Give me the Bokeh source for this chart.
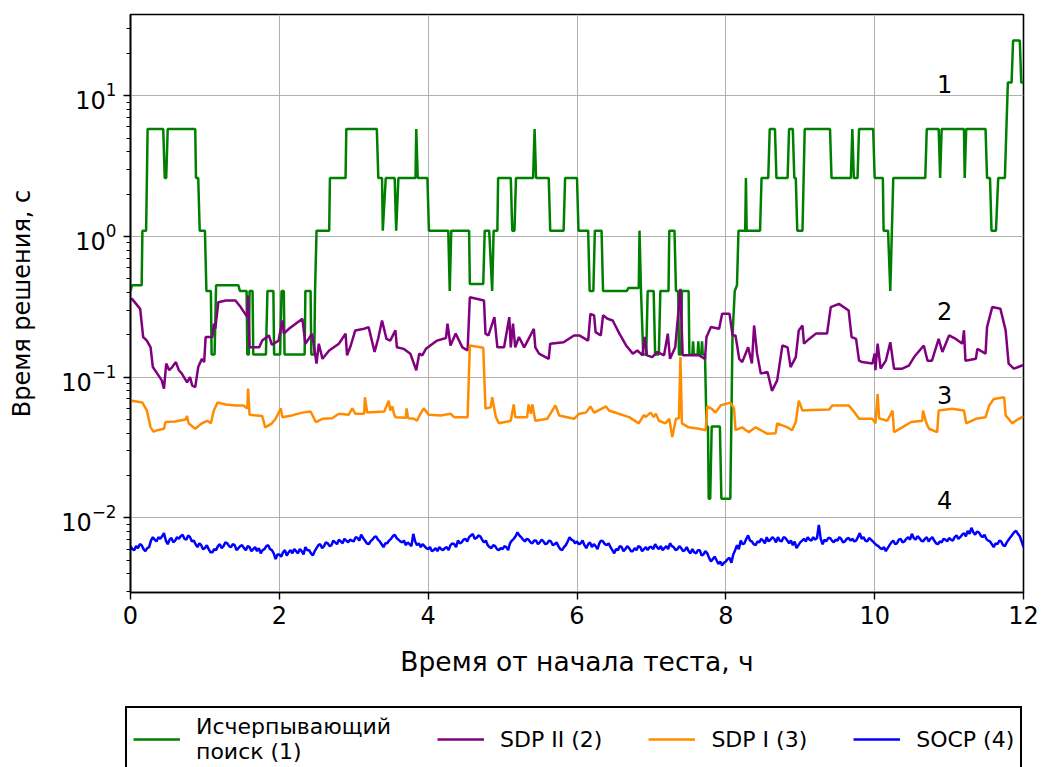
from bokeh.plotting import figure
from bokeh.layouts import column
from bokeh.models import Range1d, FixedTicker, Legend, LegendItem, ColumnDataSource
from bokeh.core.properties import value
from bokeh.embed import file_html
from bokeh.resources import INLINE

FONT = "DejaVu Sans"

# --- Exhaustive search (1): solve time, s ---
exh_t = [0.00, 0.02, 0.15, 0.16, 0.21, 0.23, 0.44, 0.46, 0.48, 0.50,
         0.87, 0.88, 0.91, 0.93, 1.00, 1.02, 1.08, 1.09, 1.13, 1.15,
         1.45, 1.47, 1.56, 1.57, 1.59, 1.60, 1.64, 1.65, 1.82, 1.84,
         1.92, 1.93, 2.01, 2.03, 2.06, 2.07, 2.34, 2.35, 2.42, 2.43,
         2.47, 2.48, 2.50, 2.67, 2.68, 2.89, 2.90, 3.31, 3.33, 3.38,
         3.39, 3.43, 3.55, 3.57, 3.60, 3.83, 3.84, 3.86, 3.99, 4.01,
         4.27, 4.29, 4.31, 4.55, 4.56, 4.74, 4.76, 4.82, 4.86, 4.88,
         4.93, 4.94, 5.11, 5.13, 5.16, 5.18, 5.41, 5.43, 5.45, 5.62,
         5.64, 5.82, 5.84, 6.00, 6.02, 6.15, 6.17, 6.22, 6.24, 6.33,
         6.35, 6.67, 6.69, 6.83, 6.84, 6.86, 6.89, 6.93, 6.95, 7.03,
         7.05, 7.10, 7.12, 7.23, 7.24, 7.31, 7.33, 7.36, 7.37, 7.40,
         7.41, 7.50, 7.51, 7.55, 7.56, 7.57, 7.62, 7.63, 7.64, 7.67,
         7.68, 7.69, 7.72, 7.74, 7.76, 7.77, 7.79, 7.81, 7.92, 7.94,
         8.06, 8.09, 8.12, 8.15, 8.17, 8.26, 8.27, 8.28, 8.46, 8.48,
         8.57, 8.59, 8.66, 8.68, 8.83, 8.85, 8.90, 8.92, 8.94, 8.96,
         9.03, 9.06, 9.40, 9.42, 9.68, 9.70, 9.72, 9.77, 9.79, 9.98,
         10.00, 10.11, 10.12, 10.18, 10.21, 10.25, 10.68, 10.70, 10.86, 10.88,
         10.90, 11.20, 11.21, 11.23, 11.49, 11.51, 11.55, 11.57, 11.63, 11.66,
         11.75, 11.77, 11.79, 11.84, 11.86, 11.95, 11.97, 12.00]
exh_s = [0.41, 0.45, 0.45, 1.1, 1.1, 5.8, 5.8, 2.6, 2.6, 5.8,
         5.8, 2.6, 2.6, 1.1, 1.1, 0.41, 0.41, 0.145, 0.145, 0.45,
         0.45, 0.41, 0.41, 0.145, 0.145, 0.41, 0.41, 0.145, 0.145, 0.41,
         0.41, 0.145, 0.145, 0.41, 0.41, 0.145, 0.145, 0.41, 0.41, 0.145,
         0.145, 0.41, 1.1, 1.1, 2.6, 2.6, 5.8, 5.8, 2.6, 2.6,
         1.1, 2.6, 2.6, 1.1, 2.6, 2.6, 5.8, 2.6, 2.6, 1.1,
         1.1, 0.41, 1.1, 1.1, 0.46, 0.46, 1.1, 1.1, 0.41, 1.1,
         1.1, 2.6, 2.6, 1.1, 1.1, 2.6, 2.6, 5.8, 2.6, 2.6,
         1.1, 1.1, 2.6, 2.6, 1.1, 1.1, 0.41, 0.41, 1.1, 1.1,
         0.41, 0.41, 0.43, 0.43, 1.1, 0.41, 0.145, 0.145, 0.41, 0.41,
         0.145, 0.145, 0.41, 0.41, 1.1, 1.1, 0.41, 0.41, 0.145, 0.145,
         0.41, 0.41, 0.145, 0.145, 0.18, 0.145, 0.145, 0.18, 0.145, 0.145,
         0.18, 0.145, 0.145, 0.0446, 0.0446, 0.0137, 0.0137, 0.0446, 0.0446, 0.0137,
         0.0137, 0.2, 0.41, 0.45, 1.1, 1.1, 2.6, 1.1, 1.1, 2.6,
         2.6, 5.8, 5.8, 2.6, 2.6, 5.8, 5.8, 2.6, 2.6, 1.1,
         1.1, 5.8, 5.8, 2.6, 2.6, 5.8, 2.6, 2.6, 5.8, 5.8,
         2.6, 2.6, 1.1, 1.1, 0.41, 2.6, 2.6, 5.8, 5.8, 2.6,
         5.8, 5.8, 2.6, 5.8, 5.8, 2.6, 2.6, 1.1, 1.1, 2.6,
         2.6, 5.8, 12.4, 12.4, 24.7, 24.7, 12.4, 12.4]

# --- SDP II (2) ---
sdp2_t = [0.00, 0.02, 0.13, 0.17, 0.22, 0.27, 0.30, 0.36, 0.42, 0.45,
          0.48, 0.52, 0.56, 0.61, 0.65, 0.69, 0.76, 0.80, 0.83, 0.87,
          0.91, 0.96, 0.99, 1.01, 1.10, 1.12, 1.14, 1.18, 1.28, 1.41,
          1.48, 1.57, 1.58, 1.60, 1.73, 1.77, 1.86, 1.90, 1.99, 2.04,
          2.06, 2.13, 2.31, 2.35, 2.44, 2.50, 2.53, 2.58, 2.67, 2.80,
          2.89, 2.91, 2.96, 3.02, 3.14, 3.20, 3.28, 3.33, 3.38, 3.44,
          3.49, 3.56, 3.58, 3.67, 3.76, 3.84, 3.88, 3.92, 3.97, 4.12,
          4.24, 4.26, 4.30, 4.37, 4.46, 4.53, 4.56, 4.75, 4.77, 4.81,
          4.89, 4.93, 5.02, 5.09, 5.11, 5.14, 5.17, 5.22, 5.29, 5.35,
          5.42, 5.44, 5.49, 5.62, 5.64, 5.82, 5.96, 6.03, 6.15, 6.18,
          6.23, 6.25, 6.32, 6.35, 6.41, 6.48, 6.57, 6.66, 6.75, 6.81,
          6.88, 6.91, 6.94, 7.01, 7.08, 7.17, 7.22, 7.25, 7.32, 7.39,
          7.42, 7.64, 7.72, 7.74, 7.80, 7.91, 7.95, 8.05, 8.09, 8.13,
          8.18, 8.22, 8.30, 8.35, 8.38, 8.42, 8.47, 8.56, 8.62, 8.69,
          8.76, 8.83, 8.87, 8.94, 8.98, 9.03, 9.05, 9.12, 9.21, 9.36,
          9.41, 9.52, 9.65, 9.69, 9.75, 9.79, 9.83, 9.97, 10.00, 10.01,
          10.04, 10.08, 10.15, 10.21, 10.26, 10.37, 10.46, 10.53, 10.66, 10.71,
          10.77, 10.86, 10.91, 11.00, 11.09, 11.18, 11.20, 11.22, 11.36, 11.38,
          11.49, 11.51, 11.58, 11.69, 11.76, 11.80, 11.87, 11.98, 12.00]
sdp2_s = [0.360, 0.360, 0.306, 0.193, 0.182, 0.163, 0.118, 0.106, 0.095, 0.083,
          0.125, 0.112, 0.118, 0.128, 0.112, 0.106, 0.092, 0.100, 0.087, 0.085,
          0.118, 0.135, 0.128, 0.193, 0.193, 0.240, 0.221, 0.341, 0.351, 0.351,
          0.315, 0.267, 0.381, 0.163, 0.163, 0.182, 0.198, 0.170, 0.182, 0.253,
          0.204, 0.221, 0.260, 0.173, 0.204, 0.125, 0.173, 0.135, 0.155, 0.173,
          0.204, 0.143, 0.168, 0.215, 0.221, 0.227, 0.151, 0.190, 0.253, 0.187,
          0.182, 0.215, 0.163, 0.159, 0.147, 0.112, 0.147, 0.143, 0.159, 0.182,
          0.190, 0.240, 0.168, 0.204, 0.163, 0.155, 0.370, 0.351, 0.204, 0.198,
          0.267, 0.163, 0.163, 0.267, 0.163, 0.240, 0.163, 0.193, 0.163, 0.187,
          0.221, 0.163, 0.147, 0.135, 0.173, 0.177, 0.198, 0.198, 0.182, 0.282,
          0.275, 0.209, 0.198, 0.275, 0.260, 0.253, 0.204, 0.168, 0.147, 0.155,
          0.143, 0.193, 0.143, 0.139, 0.151, 0.143, 0.204, 0.135, 0.163, 0.425,
          0.143, 0.143, 0.135, 0.193, 0.227, 0.221, 0.282, 0.282, 0.198, 0.198,
          0.135, 0.128, 0.163, 0.125, 0.233, 0.147, 0.106, 0.109, 0.080, 0.095,
          0.168, 0.163, 0.118, 0.139, 0.215, 0.233, 0.173, 0.187, 0.204, 0.204,
          0.315, 0.332, 0.298, 0.193, 0.187, 0.131, 0.128, 0.125, 0.147, 0.112,
          0.173, 0.115, 0.131, 0.177, 0.115, 0.115, 0.121, 0.139, 0.168, 0.131,
          0.131, 0.187, 0.151, 0.198, 0.187, 0.173, 0.215, 0.131, 0.135, 0.159,
          0.147, 0.227, 0.315, 0.306, 0.215, 0.125, 0.115, 0.121, 0.121]

# --- SDP I (3) ---
sdp1_t = [0.00, 0.02, 0.16, 0.22, 0.27, 0.31, 0.36, 0.45, 0.47, 0.60,
          0.74, 0.76, 0.78, 0.87, 0.96, 1.03, 1.08, 1.12, 1.17, 1.28,
          1.41, 1.52, 1.57, 1.58, 1.60, 1.77, 1.81, 1.90, 1.95, 2.02,
          2.04, 2.17, 2.31, 2.42, 2.49, 2.58, 2.71, 2.80, 2.93, 2.98,
          3.02, 3.14, 3.15, 3.18, 3.41, 3.47, 3.49, 3.52, 3.54, 3.56,
          3.70, 3.71, 3.73, 3.81, 3.85, 3.88, 3.94, 4.01, 4.17, 4.30,
          4.35, 4.53, 4.56, 4.74, 4.77, 4.84, 4.86, 4.91, 4.95, 5.11,
          5.15, 5.17, 5.33, 5.35, 5.38, 5.40, 5.44, 5.60, 5.71, 5.76,
          5.96, 6.03, 6.12, 6.18, 6.23, 6.39, 6.43, 6.56, 6.70, 6.83,
          6.90, 6.92, 6.99, 7.03, 7.06, 7.10, 7.19, 7.24, 7.28, 7.33,
          7.37, 7.39, 7.41, 7.50, 7.64, 7.73, 7.75, 7.82, 7.86, 7.93,
          8.06, 8.11, 8.13, 8.22, 8.27, 8.31, 8.40, 8.47, 8.56, 8.67,
          8.69, 8.83, 8.89, 8.94, 8.98, 9.03, 9.16, 9.39, 9.43, 9.65,
          9.72, 9.79, 9.97, 10.01, 10.04, 10.06, 10.17, 10.24, 10.26, 10.37,
          10.49, 10.64, 10.65, 10.69, 10.73, 10.84, 10.86, 11.04, 11.20, 11.23,
          11.36, 11.49, 11.54, 11.60, 11.74, 11.76, 11.85, 11.92, 11.98, 12.00]
sdp1_s = [0.066, 0.068, 0.066, 0.058, 0.044, 0.041, 0.042, 0.043, 0.048, 0.0485,
          0.050, 0.053, 0.047, 0.043, 0.047, 0.049, 0.047, 0.058, 0.066, 0.064,
          0.063, 0.063, 0.060, 0.083, 0.054, 0.053, 0.044, 0.047, 0.0506, 0.060,
          0.052, 0.0535, 0.056, 0.057, 0.048, 0.0506, 0.051, 0.055, 0.054, 0.060,
          0.055, 0.055, 0.072, 0.056, 0.057, 0.068, 0.058, 0.062, 0.055, 0.052,
          0.0515, 0.060, 0.051, 0.0506, 0.049, 0.053, 0.060, 0.054, 0.0535, 0.055,
          0.052, 0.052, 0.168, 0.162, 0.060, 0.061, 0.072, 0.052, 0.047, 0.049,
          0.064, 0.052, 0.052, 0.064, 0.055, 0.064, 0.049, 0.0506, 0.063, 0.0535,
          0.0506, 0.055, 0.056, 0.062, 0.056, 0.062, 0.058, 0.055, 0.052, 0.047,
          0.054, 0.052, 0.056, 0.052, 0.055, 0.049, 0.047, 0.0506, 0.0375, 0.0506,
          0.051, 0.139, 0.047, 0.044, 0.043, 0.042, 0.062, 0.059, 0.056, 0.063,
          0.066, 0.060, 0.042, 0.044, 0.042, 0.0407, 0.044, 0.042, 0.0396, 0.040,
          0.047, 0.044, 0.042, 0.048, 0.068, 0.058, 0.0585, 0.059, 0.063, 0.063,
          0.057, 0.0506, 0.0506, 0.047, 0.076, 0.051, 0.049, 0.058, 0.0407, 0.044,
          0.048, 0.049, 0.058, 0.048, 0.043, 0.0407, 0.058, 0.0596, 0.058, 0.047,
          0.0506, 0.052, 0.063, 0.070, 0.072, 0.0535, 0.047, 0.050, 0.052, 0.052]

# --- SOCP (4): solve time in ms, logged every 0.025 h (one row per half hour) ---
socp_ms = [
    6.3, 6.0, 5.9, 6.3, 6.1, 6.5, 6.4, 6.0, 5.8, 6.1, 6.2, 6.9, 7.3, 7.0, 6.8, 7.3, 7.1, 7.4, 7.8, 6.9,
    6.5, 7.0, 7.2, 6.7, 6.9, 7.3, 7.1, 7.4, 7.6, 7.1, 7.0, 7.5, 7.3, 6.8, 6.9, 6.5, 6.2, 6.6, 6.4, 6.0,
    6.1, 6.4, 6.0, 5.7, 5.7, 6.0, 5.9, 6.3, 6.5, 6.1, 6.3, 6.7, 6.6, 6.3, 6.2, 6.5, 6.4, 5.9, 6.1, 6.3,
    6.4, 6.1, 5.9, 6.3, 6.2, 5.8, 6.0, 6.2, 5.8, 6.1, 5.6, 5.9, 6.0, 6.3, 6.4, 6.0, 5.9, 5.6, 5.1, 5.5,
    5.5, 5.3, 5.7, 5.9, 5.4, 5.7, 5.9, 5.6, 6.0, 5.8, 5.6, 6.0, 5.8, 5.5, 6.2, 5.9, 5.9, 5.6, 5.4, 5.8,
    6.1, 6.4, 6.5, 6.1, 6.3, 6.7, 6.6, 6.3, 6.4, 6.9, 6.7, 6.5, 7.0, 6.8, 6.6, 7.1, 6.9, 6.7, 7.0, 6.9,
    6.8, 7.3, 7.2, 6.9, 7.6, 7.2, 6.9, 6.6, 6.5, 6.8, 7.0, 7.3, 7.4, 7.0, 6.8, 6.5, 6.2, 6.6, 6.6, 6.9,
    7.1, 7.4, 7.6, 7.2, 7.0, 6.8, 6.7, 6.9, 6.4, 6.7, 6.5, 6.3, 7.7, 6.8, 6.4, 6.6, 6.2, 6.5, 6.3, 6.1,
    6.0, 6.2, 5.8, 5.9, 6.1, 5.8, 6.2, 6.0, 5.9, 6.1, 6.2, 5.9, 6.4, 6.6, 6.5, 6.2, 6.9, 6.6, 6.7, 7.0,
    7.1, 6.8, 7.3, 7.5, 7.7, 7.1, 7.2, 7.5, 7.4, 7.0, 6.7, 6.9, 6.4, 6.2, 6.1, 6.4, 6.3, 6.0, 5.9, 6.1,
    6.0, 6.3, 6.2, 5.9, 6.6, 6.9, 7.1, 7.4, 7.9, 7.5, 7.3, 7.0, 6.8, 7.1, 7.0, 6.7, 6.6, 6.9, 6.9, 6.5,
    6.7, 7.0, 6.8, 6.5, 6.6, 6.9, 6.8, 6.4, 6.5, 6.7, 6.3, 6.0, 5.9, 6.2, 6.4, 6.8, 7.3, 7.0, 6.9, 6.6,
    6.8, 6.5, 6.6, 6.9, 6.4, 6.1, 6.5, 6.7, 6.2, 6.5, 6.3, 6.0, 6.6, 6.9, 6.8, 6.5, 6.4, 6.6, 6.2, 5.9,
    5.6, 6.0, 5.9, 6.3, 6.2, 5.8, 6.0, 6.3, 6.1, 5.8, 5.8, 6.1, 5.9, 6.3, 6.2, 5.8, 6.0, 6.2, 5.9, 6.2,
    6.2, 6.0, 6.5, 6.2, 6.0, 6.3, 5.9, 6.1, 6.3, 6.0, 6.6, 6.3, 6.2, 5.9, 6.0, 6.3, 6.1, 5.8, 5.9, 6.2,
    5.8, 5.6, 6.0, 5.7, 5.6, 5.9, 5.9, 5.4, 5.5, 5.8, 5.6, 5.2, 4.9, 5.1, 5.3, 5.0, 4.7, 4.9, 4.6, 4.8,
    4.9, 5.1, 5.2, 4.8, 5.5, 5.9, 6.4, 6.0, 6.9, 6.5, 6.6, 7.1, 7.5, 6.9, 6.8, 6.5, 6.4, 6.8, 6.7, 7.1,
    6.9, 6.6, 7.3, 6.8, 7.0, 7.3, 7.1, 6.7, 7.3, 6.9, 6.8, 7.3, 7.2, 6.9, 6.6, 6.9, 6.4, 6.8, 6.1, 6.4,
    6.7, 6.9, 7.1, 6.8, 7.3, 7.0, 6.9, 7.3, 7.0, 7.2, 8.9, 7.1, 6.5, 7.0, 6.8, 7.2, 7.2, 6.9, 6.7, 7.0,
    6.9, 7.3, 7.1, 6.7, 6.8, 7.1, 7.2, 6.9, 7.1, 6.8, 6.9, 7.3, 7.8, 7.1, 7.3, 6.9, 6.8, 7.2, 7.0, 6.8,
    6.6, 6.4, 6.3, 6.1, 6.0, 6.2, 5.8, 6.1, 6.4, 6.7, 6.9, 6.5, 6.6, 7.0, 7.1, 6.7, 6.8, 7.1, 7.3, 7.0,
    7.7, 7.2, 7.0, 7.4, 7.2, 6.9, 6.8, 7.1, 7.3, 6.8, 7.1, 7.3, 6.9, 6.6, 6.5, 6.8, 6.7, 7.1, 7.0, 6.8,
    7.2, 7.0, 6.9, 7.3, 7.5, 7.1, 7.3, 7.6, 7.8, 7.4, 8.1, 7.7, 8.5, 7.9, 7.6, 8.0, 7.9, 7.5, 7.3, 7.6,
    7.1, 6.9, 6.8, 6.5, 6.2, 6.6, 6.5, 6.9, 6.8, 6.4, 6.3, 6.7, 7.0, 7.3, 7.6, 7.9, 8.1, 7.7, 7.4, 6.8,
    6.2]
SOCP_STEP_H = 0.025
socp_t = [round(k * SOCP_STEP_H, 3) for k in range(len(socp_ms))]
socp_s = [v / 1000.0 for v in socp_ms]

series_names = ["Исчерпывающий\nпоиск (1)", "SDP II (2)", "SDP I (3)", "SOCP (4)"]
series_colors = ["green", "purple", "darkorange", "blue"]

# curve numbers written next to the right end of each curve
tag_text = ["1", "2", "3", "4"]
tag_t = [10.94, 10.94, 10.94, 10.94]
tag_s = [12.2, 0.293, 0.0753, 0.0135]

x_ticks = [0, 2, 4, 6, 8, 10, 12]
y_ticks = [0.01, 0.1, 1, 10]

LINE_W = 2.5

sources = [ColumnDataSource(dict(t=ts, s=vs)) for ts, vs in
           [(exh_t, exh_s), (sdp2_t, sdp2_s), (sdp1_t, sdp1_s), (socp_t, socp_s)]]

p = figure(width=1045, height=700, y_axis_type="log",
           x_range=Range1d(0, 12), y_range=Range1d(0.00295, 37.8),
           output_backend="svg", toolbar_location=None,
           min_border_left=130, min_border_right=22,
           min_border_top=14, min_border_bottom=108)
p.background_fill_color = "white"
p.border_fill_color = "white"
p.outline_line_color = "black"
p.outline_line_width = 1.6

for src, color in zip(sources, series_colors):
    p.line("t", "s", source=src, line_color=color, line_width=LINE_W)

p.text(x=tag_t, y=tag_s, text=tag_text, text_align="center", text_baseline="middle",
       text_font=value(FONT), text_font_size="24px", text_color="black")

# axes
p.xaxis.ticker = FixedTicker(ticks=x_ticks)
p.yaxis.ticker = FixedTicker(ticks=y_ticks,
                             minor_ticks=[m * 10.0 ** e for e in range(-3, 2) for m in range(2, 10)])
p.xaxis.axis_label = "Время от начала теста, ч"
p.yaxis.axis_label = "Время решения, с"
for ax in (p.xaxis, p.yaxis):
    ax.axis_label_text_font = FONT
    ax.axis_label_text_font_style = "normal"
    ax.axis_label_text_color = "black"
    ax.major_label_text_font = FONT
    ax.major_label_text_font_size = "24px"
    ax.major_label_text_color = "black"
    ax.axis_line_color = "black"
    ax.axis_line_width = 1.6
    ax.major_tick_line_color = "black"
    ax.major_tick_line_width = 1.4
    ax.major_tick_out = 7
    ax.major_tick_in = 0
    ax.minor_tick_out = 4
    ax.minor_tick_in = 0
    ax.minor_tick_line_width = 1.1
p.xaxis.axis_label_text_font_size = "26.5px"
p.yaxis.axis_label_text_font_size = "24px"
p.xaxis.minor_tick_line_color = None
p.xaxis.major_label_standoff = 6
p.yaxis.major_label_standoff = 7
p.xaxis.axis_label_standoff = 19
p.yaxis.axis_label_standoff = 22

p.xgrid.grid_line_color = "#b0b0b0"
p.ygrid.grid_line_color = "#b0b0b0"
p.xgrid.grid_line_width = 1
p.ygrid.grid_line_width = 1

# legend strip under the chart; its lines share the series sources but its
# y range lies above every value, so only the legend itself is visible
leg = figure(width=1045, height=67, x_range=Range1d(0, 12), y_range=Range1d(1000, 2000),
             output_backend="svg", toolbar_location=None,
             x_axis_location=None, y_axis_location=None,
             min_border_left=119, min_border_right=0, min_border_top=0, min_border_bottom=0)
# keep the strip's own frame instead of lining it up with the chart above
if "frame_align" in leg.properties():
    leg.frame_align = False
    p.frame_align = False
leg.outline_line_color = None
leg.xgrid.visible = False
leg.ygrid.visible = False
leg.background_fill_color = "white"
leg.border_fill_color = "white"
swatches = [leg.line("t", "s", source=src, line_color=c, line_width=LINE_W)
            for src, c in zip(sources, series_colors)]
legend = Legend(
    items=[LegendItem(label=n, renderers=[r]) for n, r in zip(series_names, swatches)],
    orientation="horizontal", location="top_left",
    label_text_font=FONT, label_text_font_size="22px", label_text_color="black",
    glyph_width=47, glyph_height=20, label_standoff=16, spacing=46,
    padding=6, margin=6,
    border_line_color="black", border_line_width=2, border_line_alpha=1.0,
    background_fill_color="white", background_fill_alpha=1.0,
)
leg.add_layout(legend, "center")

layout = column(p, leg, spacing=0)
open("out.html", "w").write(file_html(layout, INLINE))
